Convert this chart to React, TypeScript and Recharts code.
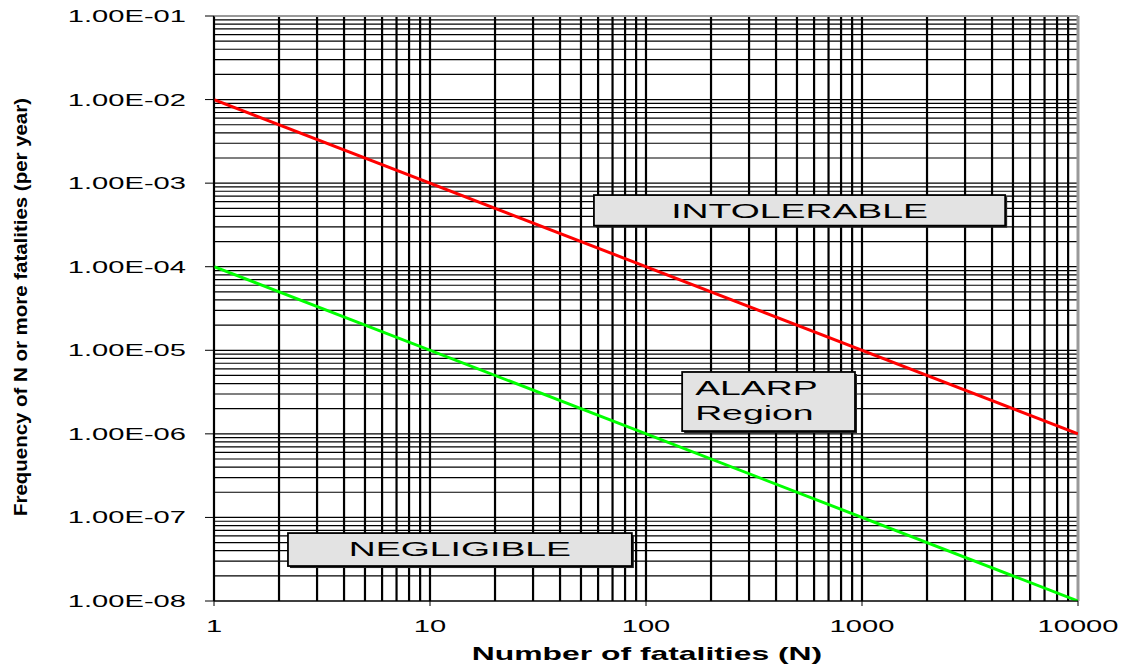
import { ComposedChart, Line, XAxis, YAxis, ReferenceLine, ReferenceArea } from "recharts";

// fatalities N and limit lines (frequency per year)
const fatalities = [1, 10000];
const intolerableLimit = [1e-2, 1e-6];
const negligibleLimit = [1e-4, 1e-8];

const xTicks = [1, 10, 100, 1000, 10000];
const xTickLabels = ["1", "10", "100", "1000", "10000"];
const yTicks = [1e-8, 1e-7, 1e-6, 1e-5, 1e-4, 1e-3, 1e-2, 1e-1];
const yTickLabels = ["1.00E-08", "1.00E-07", "1.00E-06", "1.00E-05", "1.00E-04", "1.00E-03", "1.00E-02", "1.00E-01"];

// log grid: 1..9 in every decade
const xGrid = [
  1, 2, 3, 4, 5, 6, 7, 8, 9,
  10, 20, 30, 40, 50, 60, 70, 80, 90,
  100, 200, 300, 400, 500, 600, 700, 800, 900,
  1000, 2000, 3000, 4000, 5000, 6000, 7000, 8000, 9000,
];
const yGrid = [
  1e-8, 2e-8, 3e-8, 4e-8, 5e-8, 6e-8, 7e-8, 8e-8, 9e-8,
  1e-7, 2e-7, 3e-7, 4e-7, 5e-7, 6e-7, 7e-7, 8e-7, 9e-7,
  1e-6, 2e-6, 3e-6, 4e-6, 5e-6, 6e-6, 7e-6, 8e-6, 9e-6,
  1e-5, 2e-5, 3e-5, 4e-5, 5e-5, 6e-5, 7e-5, 8e-5, 9e-5,
  1e-4, 2e-4, 3e-4, 4e-4, 5e-4, 6e-4, 7e-4, 8e-4, 9e-4,
  1e-3, 2e-3, 3e-3, 4e-3, 5e-3, 6e-3, 7e-3, 8e-3, 9e-3,
  1e-2, 2e-2, 3e-2, 4e-2, 5e-2, 6e-2, 7e-2, 8e-2, 9e-2,
];

// region boxes, in data space
const regionNames = [["INTOLERABLE"], ["ALARP", "Region"], ["NEGLIGIBLE"]];
const regionX = [[57.4, 4600], [147, 928], [2.2, 86]];
const regionY = [[7.2e-4, 3.1e-4], [5.5e-6, 1.08e-6], [6.5e-8, 2.62e-8]];

const data = fatalities.map((n, i) => ({
  n,
  intolerable: intolerableLimit[i],
  negligible: negligibleLimit[i],
}));

const FONT = "'Liberation Sans', Arial, sans-serif";
const STRETCH = 1.82;

const XTick = (props: any) => {
  const { x, y, payload } = props;
  const i = xTicks.indexOf(payload.value);
  return (
    <text transform={`translate(${x},${y + 26}) scale(${STRETCH},1)`} textAnchor="middle" fontFamily={FONT} fontSize={16} fill="#000">
      {xTickLabels[i]}
    </text>
  );
};

const YTick = (props: any) => {
  const { x, y, payload } = props;
  const i = yTicks.findIndex((t) => Math.abs(t - payload.value) / t < 1e-6);
  return (
    <text transform={`translate(${x},${y + 6}) scale(${STRETCH},1)`} textAnchor="end" fontFamily={FONT} fontSize={16} fill="#000">
      {yTickLabels[i]}
    </text>
  );
};

const YTitle = () => (
  <text
    transform="translate(27,307) rotate(-90)"
    textAnchor="middle"
    fontFamily={FONT}
    fontWeight="bold"
    fontSize={19}
    textLength={418}
    lengthAdjust="spacingAndGlyphs"
    fill="#000"
  >
    Frequency of N or more fatalities (per year)
  </text>
);

const XTitle = () => (
  <text transform={`translate(647,660) scale(1.77,1)`} textAnchor="middle" fontFamily={FONT} fontWeight="bold" fontSize={18} fill="#000">
    Number of fatalities (N)
  </text>
);

const makeBox = (lines: string[]) => (props: any) => {
  const { x, y, width, height } = props;
  const multi = lines.length > 1;
  return (
    <g>
      <rect x={x + 2} y={y + 2} width={width} height={height} fill="#222" />
      <rect x={x} y={y} width={width} height={height} fill="#e3e3e3" stroke="#000" strokeWidth={1.8} />
      {lines.map((t, k) => (
        <text
          key={t}
          transform={`translate(${multi ? x + 13 : x + width / 2},${y + 23 + k * 25}) scale(1.78,1)`}
          textAnchor={multi ? "start" : "middle"}
          fontFamily={FONT}
          fontSize={21}
          fill="#000"
        >
          {t}
        </text>
      ))}
    </g>
  );
};

export default function App() {
  return (
    <div style={{ position: "absolute", left: 0, top: 0, background: "#fff" }}>
      <ComposedChart width={1124} height={666} data={data} margin={{ top: 16, right: 46, bottom: 0, left: 0 }}>
        <XAxis
          dataKey="n"
          type="number"
          scale="log"
          domain={[1, 10000]}
          ticks={xTicks}
          allowDataOverflow
          height={65}
          tickSize={5}
          tickMargin={0}
          stroke="#000"
          tick={<XTick />}
          label={<XTitle />}
        />
        <YAxis
          type="number"
          scale="log"
          domain={[1e-8, 0.1]}
          ticks={yTicks}
          allowDataOverflow
          width={214}
          tickSize={9}
          tickMargin={19}
          stroke="#000"
          tick={<YTick />}
          label={<YTitle />}
        />
        {yGrid.map((v) => (
          <ReferenceLine key={"h" + v} y={v} stroke="#000" strokeWidth={1.2} zIndex={50} />
        ))}
        {xGrid.map((v) => (
          <ReferenceLine key={"v" + v} x={v} stroke="#000" strokeWidth={2.2} zIndex={50} />
        ))}
        <ReferenceLine y={0.1} stroke="#999" strokeWidth={2} zIndex={60} />
        <ReferenceLine x={10000} stroke="#999" strokeWidth={3} zIndex={60} />
        <Line dataKey="intolerable" stroke="#ff0000" strokeWidth={3} dot={false} isAnimationActive={false} />
        <Line dataKey="negligible" stroke="#00ff00" strokeWidth={3} dot={false} isAnimationActive={false} />
        {regionNames.map((lines, i) => (
          <ReferenceArea
            key={lines[0]}
            x1={regionX[i][0]}
            x2={regionX[i][1]}
            y1={regionY[i][0]}
            y2={regionY[i][1]}
            zIndex={1000}
            shape={makeBox(lines)}
          />
        ))}
      </ComposedChart>
    </div>
  );
}
